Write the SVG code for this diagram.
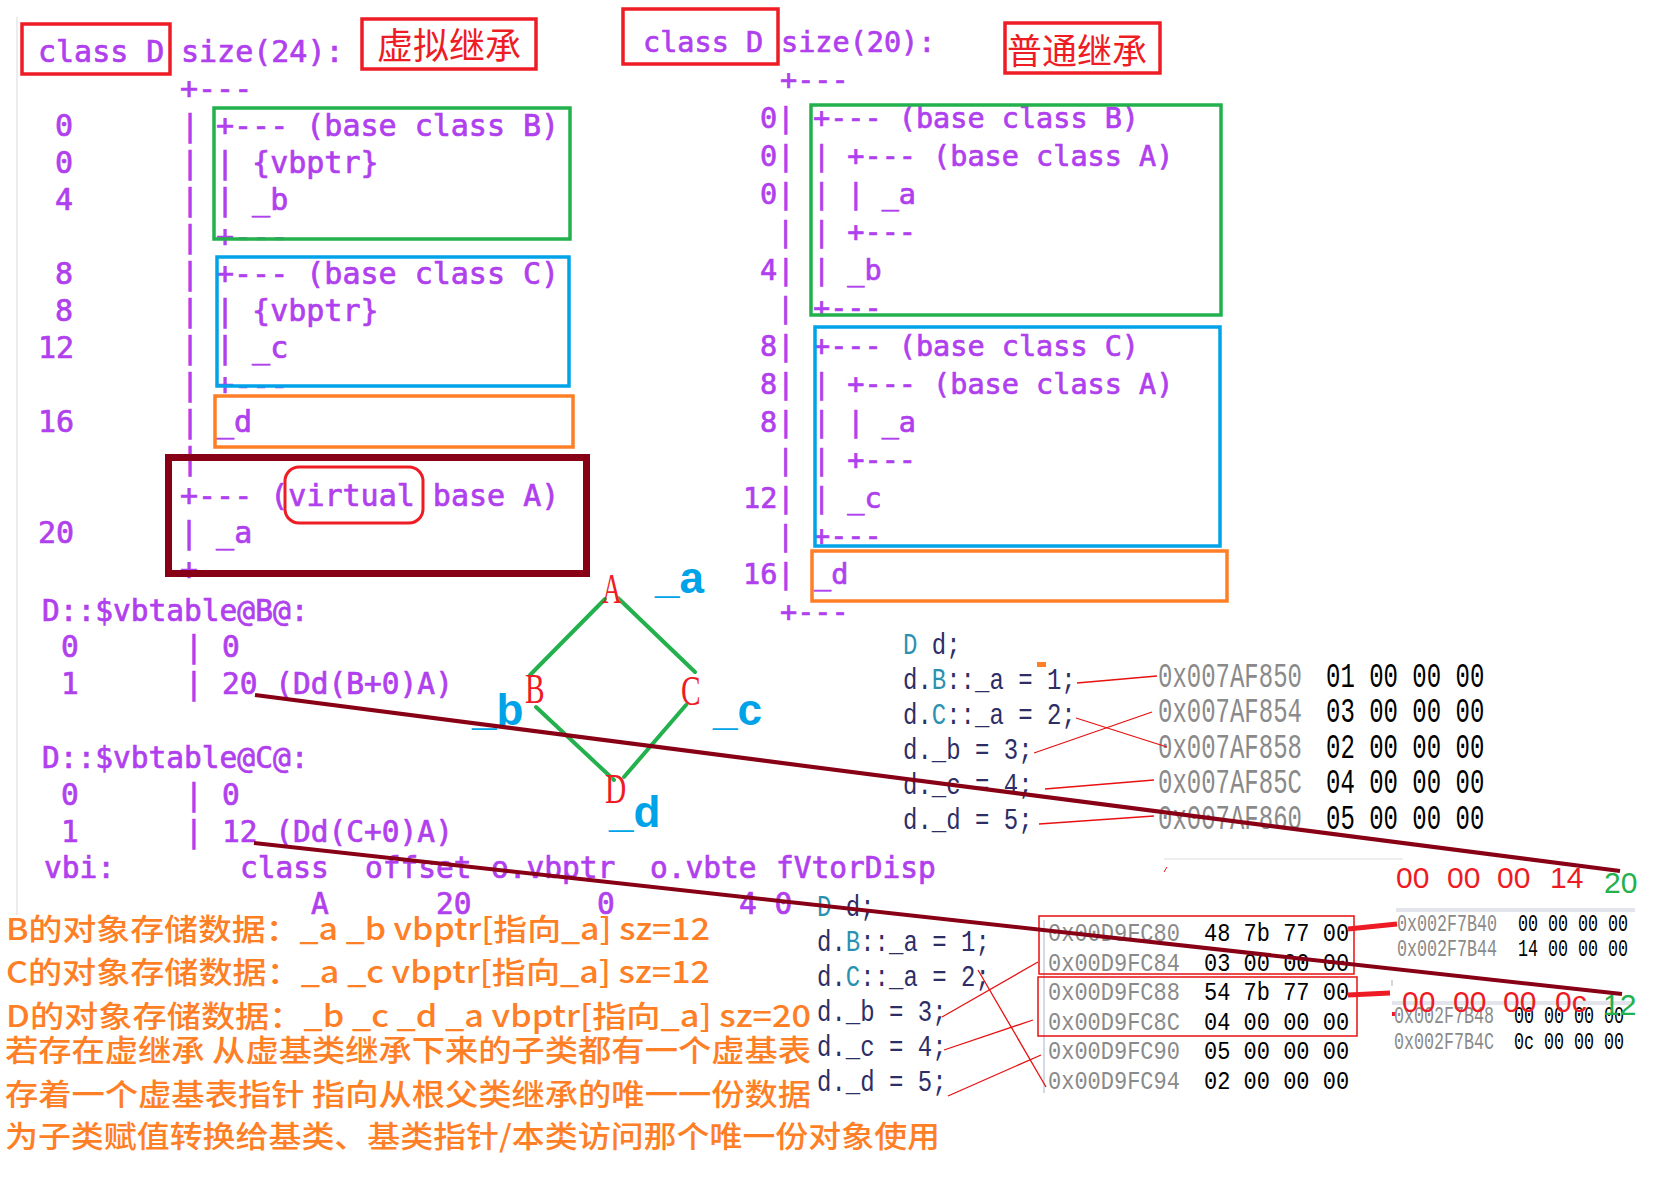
<svg xmlns="http://www.w3.org/2000/svg" width="1673" height="1189" viewBox="0 0 1673 1189">
<style>
.con{font-family:"DejaVu Sans Mono",monospace;font-size:30px;fill:#b040ee;stroke:#b040ee;stroke-width:0.7px}
.cr{font-size:28.5px}
.box{fill:none;stroke-width:3.5}
.red{stroke:#ee1c24}
.grn{stroke:#22b14c}
.blu{stroke:#00a2e8}
.org{stroke:#ff7f27}
.cjkh{font-family:"Noto Sans CJK SC",sans-serif;font-size:36px;fill:#ee1c24;stroke:none}
.mem{font-family:"Liberation Mono",monospace;font-size:24px}
.m2{font-size:22px}
.m3{font-size:16.7px}
.code{fill:#2e2e66}
.ty{fill:#2b91af}
.addr{fill:#8a8a8a}
.byte{fill:#000}
.thin{stroke:#e81010;stroke-width:1.3;fill:none}
.thick{stroke:#ed1c24;stroke-width:5;fill:none}
.dr{stroke:#880015;stroke-width:4;fill:none}
.note{font-family:"Noto Sans CJK SC",sans-serif;font-size:30px;font-weight:500;fill:#ff7f27}
.lbl{font-family:"Liberation Sans",Arial,sans-serif;font-weight:bold;font-size:44px;fill:#00a2e8}
.node{font-family:"Liberation Serif",serif;font-size:42px;fill:#ee1c24}
.edge{stroke:#22b14c;stroke-width:4;fill:none;stroke-linecap:round}
.hex{font-family:"Liberation Sans",Arial,sans-serif;font-size:30px;fill:#ed1c24}
.hexg{fill:#22b14c}
</style>

<line x1="17" y1="17" x2="17" y2="915" stroke="#e6e6e6" stroke-width="1.5"/>

<g id="layout-virtual" class="con">
<text x="38" y="62">class D</text>
<text x="181" y="62">size(24):</text>
<text x="180" y="99">+---</text>
<text x="55" y="136">0</text><text x="181" y="136">|</text><text x="216" y="136">+--- (base class B)</text>
<text x="55" y="173">0</text><text x="181" y="173">|</text><text x="216" y="173">| {vbptr}</text>
<text x="55" y="210">4</text><text x="181" y="210">|</text><text x="216" y="210">| _b</text>
<text x="181" y="247">|</text><text x="216" y="247">+---</text>
<text x="55" y="284">8</text><text x="181" y="284">|</text><text x="216" y="284">+--- (base class C)</text>
<text x="55" y="321">8</text><text x="181" y="321">|</text><text x="216" y="321">| {vbptr}</text>
<text x="38" y="358">12</text><text x="181" y="358">|</text><text x="216" y="358">| _c</text>
<text x="181" y="395">|</text><text x="216" y="395">+---</text>
<text x="38" y="432">16</text><text x="181" y="432">|</text><text x="216" y="432">_d</text>
<text x="181" y="469">|</text>
<text x="180" y="506">+--- (virtual base A)</text>
<text x="38" y="543">20</text><text x="180" y="543">| _a</text>
<text x="180" y="580">+---</text>
<rect class="box red" x="22" y="24" width="148" height="50"/>
<rect class="box red" x="362" y="19" width="174" height="50"/>
<text class="cjkh" x="377" y="59">虚拟继承</text>
<rect class="box grn" x="214" y="108" width="356" height="131"/>
<rect class="box blu" x="217" y="257" width="352" height="129"/>
<rect class="box org" x="215" y="396" width="358" height="51"/>
<rect x="168.5" y="457.5" width="418" height="116" fill="none" stroke="#880015" stroke-width="7"/>
<rect x="285" y="467" width="138" height="56" rx="14" fill="none" stroke="#ee1c24" stroke-width="3"/>
</g>

<g id="layout-normal" class="con cr">
<text x="643" y="52">class D</text>
<text x="781" y="52">size(20):</text>
<text x="780" y="90">+---</text>
<text x="760" y="128">0|</text><text x="813" y="128">+--- (base class B)</text>
<text x="760" y="166">0|</text><text x="813" y="166">| +--- (base class A)</text>
<text x="760" y="204">0|</text><text x="813" y="204">| | _a</text>
<text x="777" y="242">|</text><text x="813" y="242">| +---</text>
<text x="760" y="280">4|</text><text x="813" y="280">| _b</text>
<text x="777" y="318">|</text><text x="813" y="318">+---</text>
<text x="760" y="356">8|</text><text x="813" y="356">+--- (base class C)</text>
<text x="760" y="394">8|</text><text x="813" y="394">| +--- (base class A)</text>
<text x="760" y="432">8|</text><text x="813" y="432">| | _a</text>
<text x="777" y="470">|</text><text x="813" y="470">| +---</text>
<text x="743" y="508">12|</text><text x="813" y="508">| _c</text>
<text x="777" y="546">|</text><text x="813" y="546">+---</text>
<text x="743" y="584">16|</text><text x="814" y="584">_d</text>
<text x="780" y="622">+---</text>
<rect class="box red" x="623" y="9" width="155" height="55"/>
<rect class="box red" x="1005" y="23" width="155" height="50"/>
<text class="cjkh" style="font-size:35px" x="1007" y="64">普通继承</text>
<rect class="box grn" x="811" y="105" width="410" height="210"/>
<rect class="box blu" x="815" y="327" width="405" height="219"/>
<rect class="box org" x="812" y="551" width="415" height="50"/>
</g>

<g id="vbtable" class="con" style="font-size:29.5px">
<text x="42" y="621">D::$vbtable@B@:</text>
<text x="61" y="657">0</text><text x="185" y="657">|</text><text x="222" y="657">0</text>
<text x="61" y="694">1</text><text x="185" y="694">|</text><text x="222" y="694">20 (Dd(B+0)A)</text>
<text x="42" y="768">D::$vbtable@C@:</text>
<text x="61" y="805">0</text><text x="185" y="805">|</text><text x="222" y="805">0</text>
<text x="61" y="842">1</text><text x="185" y="842">|</text><text x="222" y="842">12 (Dd(C+0)A)</text>
<text x="44" y="878">vbi:</text><text x="240" y="878">class</text><text x="365" y="878">offset</text><text x="491" y="878">o.vbptr</text><text x="650" y="878">o.vbte</text><text x="776" y="878">fVtorDisp</text>
<text x="311" y="914">A</text><text x="436" y="914">20</text><text x="597" y="914">0</text><text x="739" y="914">4 0</text>
</g>

<g id="diagram-connectors">
<line class="edge" x1="605" y1="599" x2="530" y2="675"/>
<line class="edge" x1="618" y1="598" x2="695" y2="672"/>
<line class="edge" x1="536" y1="707" x2="614" y2="780"/>
<line class="edge" x1="686" y1="705" x2="624" y2="777"/>
</g>
<g id="node-A"><text class="node" transform="translate(602 603) scale(0.65 1)">A</text><text class="lbl" x="655" y="593">_a</text></g>
<g id="node-B"><text class="node" transform="translate(525 703) scale(0.7 1)">B</text><text class="lbl" x="472" y="725">_b</text></g>
<g id="node-C"><text class="node" transform="translate(681 705) scale(0.7 1)">C</text><text class="lbl" x="713" y="725">_c</text></g>
<g id="node-D"><text class="node" transform="translate(605 803) scale(0.7 1)">D</text><text class="lbl" x="609" y="827">_d</text></g>

<g id="dump-normal">
<text class="mem" transform="translate(903 654) scale(1 1.25)"><tspan class="ty">D</tspan><tspan class="code"> d;</tspan></text>
<text class="mem code" transform="translate(903 689) scale(1 1.25)">d.<tspan class="ty">B</tspan>::_a = 1;</text>
<text class="mem code" transform="translate(903 724) scale(1 1.25)">d.<tspan class="ty">C</tspan>::_a = 2;</text>
<text class="mem code" transform="translate(903 759) scale(1 1.25)">d._b = 3;</text>
<text class="mem code" transform="translate(903 794) scale(1 1.25)">d._c = 4;</text>
<text class="mem code" transform="translate(903 829) scale(1 1.25)">d._d = 5;</text>
<rect x="1037" y="662" width="9" height="5" fill="#ff7f27"/>
<text class="mem addr" transform="translate(1158 687) scale(1 1.45)">0x007AF850</text>
<text class="mem addr" transform="translate(1158 722) scale(1 1.45)">0x007AF854</text>
<text class="mem addr" transform="translate(1158 758) scale(1 1.45)">0x007AF858</text>
<text class="mem addr" transform="translate(1158 793) scale(1 1.45)">0x007AF85C</text>
<text class="mem addr" transform="translate(1158 829) scale(1 1.45)">0x007AF860</text>
<text class="mem byte" transform="translate(1326 687) scale(1 1.45)">01 00 00 00</text>
<text class="mem byte" transform="translate(1326 722) scale(1 1.45)">03 00 00 00</text>
<text class="mem byte" transform="translate(1326 758) scale(1 1.45)">02 00 00 00</text>
<text class="mem byte" transform="translate(1326 793) scale(1 1.45)">04 00 00 00</text>
<text class="mem byte" transform="translate(1326 829) scale(1 1.45)">05 00 00 00</text>
</g>

<g id="dump-virtual">
<line x1="1164" y1="859" x2="1403" y2="859" stroke="#e8e8e8" stroke-width="1.5"/>
<line x1="1164" y1="872" x2="1167" y2="867" stroke="#e81010" stroke-width="1"/>
<text class="mem" transform="translate(817 916) scale(1 1.2)"><tspan class="ty">D</tspan><tspan class="code"> d;</tspan></text>
<text class="mem code" transform="translate(817 951) scale(1 1.2)">d.<tspan class="ty">B</tspan>::_a = 1;</text>
<text class="mem code" transform="translate(817 986) scale(1 1.2)">d.<tspan class="ty">C</tspan>::_a = 2;</text>
<text class="mem code" transform="translate(817 1021) scale(1 1.2)">d._b = 3;</text>
<text class="mem code" transform="translate(817 1056) scale(1 1.2)">d._c = 4;</text>
<text class="mem code" transform="translate(817 1091) scale(1 1.2)">d._d = 5;</text>
<line x1="1044" y1="920" x2="1044" y2="1093" stroke="#b8c0d8" stroke-width="1.2"/>
<text class="mem m2 addr" transform="translate(1048 941) scale(1 1.15)">0x00D9FC80</text>
<text class="mem m2 addr" transform="translate(1048 971) scale(1 1.15)">0x00D9FC84</text>
<text class="mem m2 addr" transform="translate(1048 1000) scale(1 1.15)">0x00D9FC88</text>
<text class="mem m2 addr" transform="translate(1048 1030) scale(1 1.15)">0x00D9FC8C</text>
<text class="mem m2 addr" transform="translate(1048 1059) scale(1 1.15)">0x00D9FC90</text>
<text class="mem m2 addr" transform="translate(1048 1089) scale(1 1.15)">0x00D9FC94</text>
<text class="mem m2 byte" transform="translate(1204 941) scale(1 1.15)">48 7b 77 00</text>
<text class="mem m2 byte" transform="translate(1204 971) scale(1 1.15)">03 00 00 00</text>
<text class="mem m2 byte" transform="translate(1204 1000) scale(1 1.15)">54 7b 77 00</text>
<text class="mem m2 byte" transform="translate(1204 1030) scale(1 1.15)">04 00 00 00</text>
<text class="mem m2 byte" transform="translate(1204 1059) scale(1 1.15)">05 00 00 00</text>
<text class="mem m2 byte" transform="translate(1204 1089) scale(1 1.15)">02 00 00 00</text>
<rect x="1039" y="916" width="315" height="58" fill="none" stroke="#e81010" stroke-width="1.5"/>
<rect x="1038" y="977" width="319" height="59" fill="none" stroke="#e81010" stroke-width="1.5"/>
</g>

<g id="dump-vbtable">
<text class="hex"><tspan x="1396" y="888">00</tspan><tspan x="1447" y="888">00</tspan><tspan x="1497" y="888">00</tspan><tspan x="1550" y="888">14</tspan></text>
<text class="hex hexg" x="1604" y="893">20</text>
<rect x="1396" y="908" width="239" height="4" fill="#e4e4ec"/>
<text class="mem m3 addr" transform="translate(1397 931) scale(1 1.4)">0x002F7B40</text>
<text class="mem m3 addr" transform="translate(1397 956) scale(1 1.4)">0x002F7B44</text>
<text class="mem m3 byte" transform="translate(1518 931) scale(1 1.4)">00 00 00 00</text>
<text class="mem m3 byte" transform="translate(1518 956) scale(1 1.4)">14 00 00 00</text>
<line x1="1392" y1="980" x2="1392" y2="986" stroke="#c8c8d0" stroke-width="1.5"/>
<rect x="1392" y="1001" width="243" height="4" fill="#e4e4ec"/>
<rect x="1392" y="1012" width="4" height="4" fill="#ed1c24"/>
<text class="mem m3 addr" transform="translate(1394 1023) scale(1 1.4)">0x002F7B48</text>
<text class="mem m3 addr" transform="translate(1394 1049) scale(1 1.4)">0x002F7B4C</text>
<text class="mem m3 byte" transform="translate(1514 1023) scale(1 1.4)">00 00 00 00</text>
<text class="mem m3 byte" transform="translate(1514 1049) scale(1 1.4)">0c 00 00 00</text>
<text class="hex"><tspan x="1402" y="1012">00</tspan><tspan x="1453" y="1012">00</tspan><tspan x="1503" y="1012">00</tspan><tspan x="1555" y="1012">0c</tspan></text>
<text class="hex hexg" x="1603" y="1015">12</text>
</g>

<g id="notes" class="note">
<text x="6" y="940" textLength="704" lengthAdjust="spacingAndGlyphs">B的对象存储数据：_a _b vbptr[指向_a] sz=12</text>
<text x="6" y="983" textLength="704" lengthAdjust="spacingAndGlyphs">C的对象存储数据：_a _c vbptr[指向_a] sz=12</text>
<text x="6" y="1027" textLength="805" lengthAdjust="spacingAndGlyphs">D的对象存储数据：_b _c _d _a vbptr[指向_a] sz=20</text>
<text x="5" y="1061" textLength="806" lengthAdjust="spacingAndGlyphs">若存在虚继承 从虚基类继承下来的子类都有一个虚基表</text>
<text x="5" y="1105" textLength="806" lengthAdjust="spacingAndGlyphs">存着一个虚基表指针 指向从根父类继承的唯一一份数据</text>
<text x="5" y="1147" textLength="935" lengthAdjust="spacingAndGlyphs">为子类赋值转换给基类、基类指针/本类访问那个唯一份对象使用</text>
</g>

<g id="connectors">
<line class="thin" x1="1077" y1="683" x2="1157" y2="676"/>
<line class="thin" x1="1076" y1="718" x2="1167" y2="747"/>
<line class="thin" x1="1034" y1="753" x2="1152" y2="712"/>
<line class="thin" x1="1045" y1="789" x2="1154" y2="780"/>
<line class="thin" x1="1039" y1="824" x2="1154" y2="816"/>
<line class="thin" x1="942" y1="1017" x2="1038" y2="962"/>
<line class="thin" x1="944" y1="1050" x2="1033" y2="1020"/>
<line class="thin" x1="948" y1="1096" x2="1041" y2="1055"/>
<line class="thin" x1="978" y1="970" x2="1046" y2="1087"/>
<line class="thick" x1="1348" y1="929" x2="1397" y2="924"/>
<line class="thick" x1="1348" y1="995" x2="1390" y2="993"/>
<line class="dr" x1="255" y1="695" x2="1620" y2="871"/>
<line class="dr" x1="254" y1="843" x2="1622" y2="994"/>
</g>
</svg>
